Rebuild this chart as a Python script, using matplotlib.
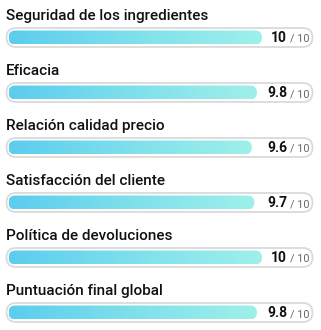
import numpy as np
import matplotlib
matplotlib.use("Agg")
import matplotlib.pyplot as plt
from matplotlib.patches import FancyBboxPatch
from matplotlib.colors import LinearSegmentedColormap

# Scores
labels = ["Seguridad de los ingredientes", "Eficacia", "Relación calidad precio",
          "Satisfacción del cliente", "Política de devoluciones", "Puntuación final global"]
scores = [10, 9.8, 9.6, 9.7, 10, 9.8]
score_text = ["10", "9.8", "9.6", "9.7", "10", "9.8"]
max_score = 10

W, H = 321, 330
fig = plt.figure(figsize=(W / 100, H / 100), dpi=100)
ax = fig.add_axes([0, 0, 1, 1])
ax.set_xlim(0, W)
ax.set_ylim(H, 0)
ax.axis("off")

grad = LinearSegmentedColormap.from_list("bar", ["#5ccdef", "#7fe0ec", "#9ff0ea"])
gx = np.linspace(0, 1, 256).reshape(1, -1)

fill_x0 = 8.5
fill_w = 253.5   # width of a full score
row_h = 55

for i, (lab, s, st) in enumerate(zip(labels, scores, score_text)):
    yc = 37.5 + i * row_h
    ax.text(6, yc - 17.5, lab, fontsize=11, family="Roboto", fontweight="medium",
            color="#111111", va="baseline", ha="left")

    # track
    track = FancyBboxPatch((6.5, yc - 9.5), 306, 19,
                           boxstyle="round,pad=0,rounding_size=9.5",
                           fc="white", ec="#dadada", lw=1.3, zorder=1)
    ax.add_patch(track)

    # filled part with gradient
    w = s / max_score * fill_w
    bar = FancyBboxPatch((fill_x0, yc - 7), w, 14,
                         boxstyle="round,pad=0,rounding_size=7",
                         fc="none", ec="none", zorder=2)
    ax.add_patch(bar)
    im = ax.imshow(gx, cmap=grad, aspect="auto",
                   extent=(fill_x0, fill_x0 + w, yc + 7, yc - 7), zorder=2)
    im.set_clip_path(bar)

    ax.text(287, yc + 4.5, st, fontsize=10, family="Roboto", fontweight="bold",
            color="#111111", ha="right", va="baseline", zorder=3)
    ax.text(289.5, yc + 4.5, "/ 10", fontsize=7.8, family="Roboto",
            color="#666666", ha="left", va="baseline", zorder=3)

ax.set_xlim(0, W)
ax.set_ylim(H, 0)
fig.savefig("out.png", dpi=100)
